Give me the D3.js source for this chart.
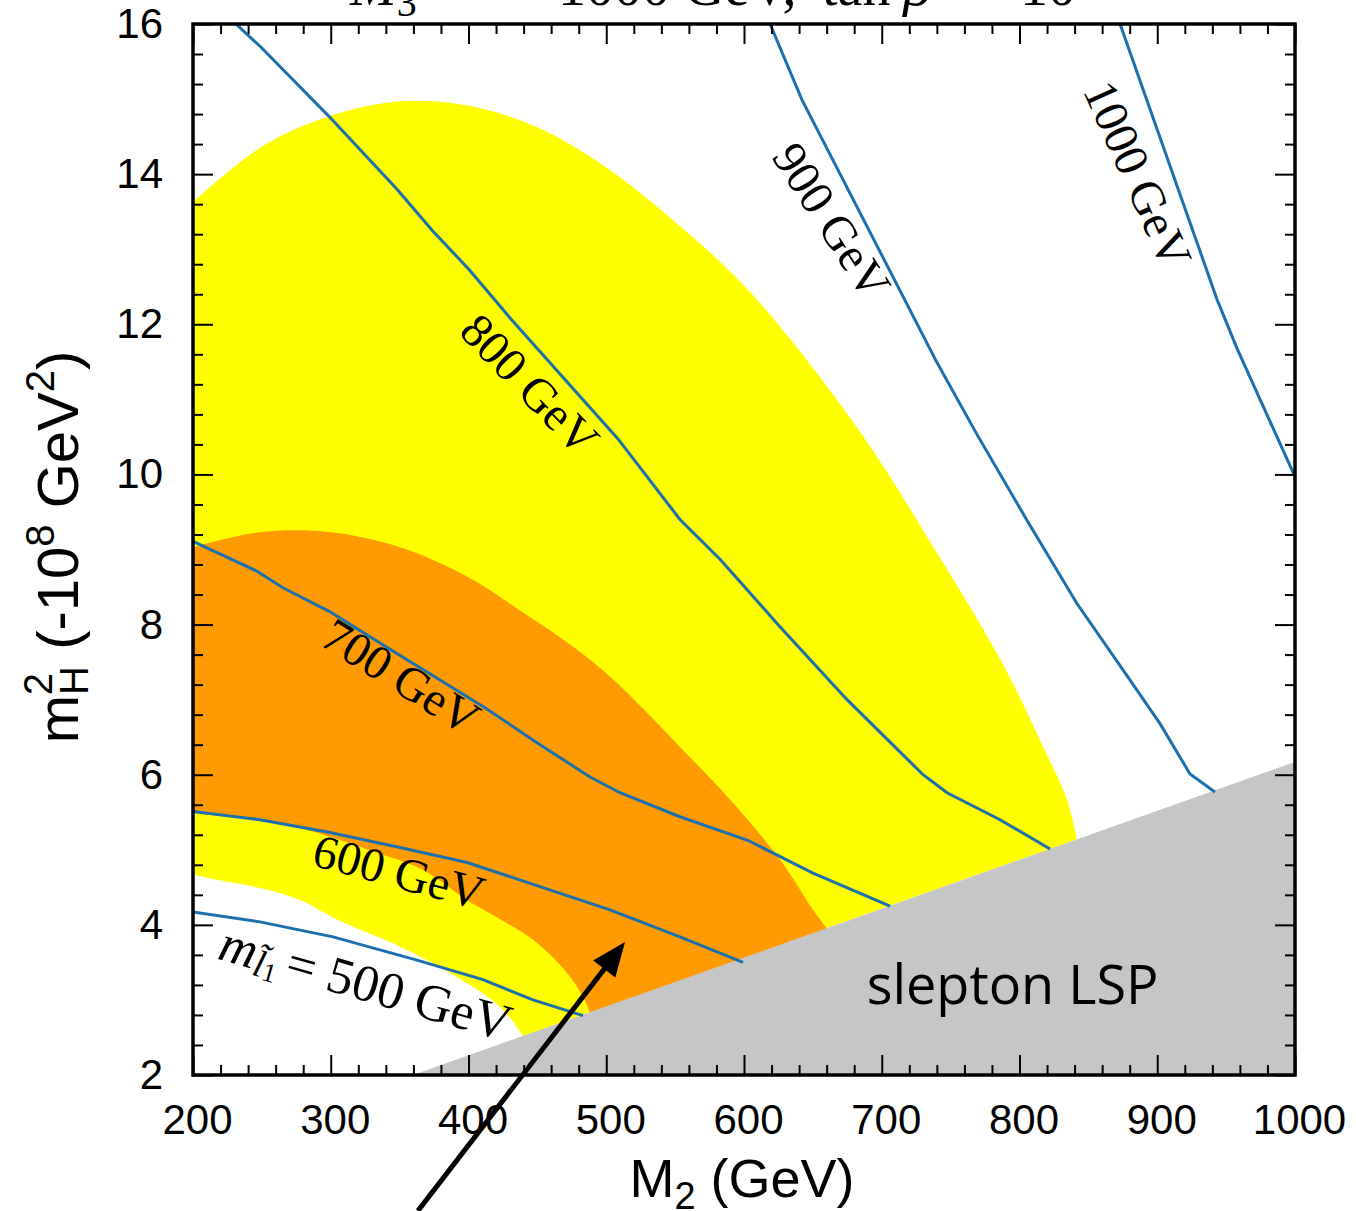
<!DOCTYPE html>
<html>
<head>
<meta charset="utf-8">
<script src="https://cdn.jsdelivr.net/npm/d3@7"></script>
<style>
  body { margin: 0; background: #fff; }
  #chart { width: 1356px; height: 1211px; overflow: hidden; }
</style>
</head>
<body>
<div id="chart"></div>
<script>
// axis ranges and ticks
const m2Domain = [200, 1000];
const mhDomain = [2, 16];
const m2Major = [200, 300, 400, 500, 600, 700, 800, 900, 1000];
const mhMajor = [2, 4, 6, 8, 10, 12, 14, 16];

// shaded regions, [M2 (GeV), mH^2 (-1e8 GeV^2)]
const yellowTop = [[200, 13.63], [249.4, 14.36], [298.7, 14.77], [351, 14.97], [400.4, 14.91],
  [449, 14.63], [498.4, 14.11], [547.7, 13.4], [604.4, 12.43], [684.2, 10.57], [738.6, 9.0],
  [788, 7.47], [818.5, 6.32], [834.5, 5.67], [841.7, 5.14]];
const yellowBottom = [[200, 4.67], [217.4, 4.6], [248.6, 4.49], [277.7, 4.33], [304.5, 4.07],
  [350.3, 3.71], [386.6, 3.36], [422.9, 2.91], [439.6, 2.52]];
const orangeTop = [[200, 9.03], [248.6, 9.23], [299.5, 9.23], [350.3, 9.03], [398.9, 8.64],
  [439.6, 8.16], [477, 7.69], [504.9, 7.27], [553.5, 6.37], [589.8, 5.67], [626.1, 4.87],
  [650.1, 4.2], [660.3, 3.95]];
const orangeBottom = [[200, 5.49], [248.6, 5.39], [277.7, 5.29], [333.6, 4.96], [367, 4.73],
  [398.9, 4.33], [446.8, 3.8], [471.5, 3.36], [483.1, 3.04], [488.2, 2.83]];
const sleptonLSP = [[359.7, 2], [1000, 6.17], [1000, 2]];

// slepton mass contours
const contour500 = [[200, 4.17], [248.6, 4.04], [301.6, 3.84], [362.6, 3.53], [410.5, 3.27],
  [446.8, 3.0], [483.1, 2.79]];
const contour600 = [[200, 5.51], [248.6, 5.4], [299.5, 5.23], [350.3, 5.03], [398.9, 4.83],
  [451.9, 4.51], [502.7, 4.2], [553.5, 3.84], [599.3, 3.5]];
const contour700 = [[200, 9.11], [246.5, 8.71], [265.3, 8.49], [299.5, 8.17], [343, 7.67],
  [410.5, 6.91], [451.9, 6.4], [488.2, 5.97], [510, 5.76], [553.5, 5.44], [602.2, 5.13],
  [650.1, 4.69], [706, 4.25]];
const contour800 = [[231.2, 16], [249.4, 15.69], [298.7, 14.77], [348.1, 13.8], [374.2, 13.24],
  [400.4, 12.73], [430.8, 12.07], [508.7, 10.47], [553.5, 9.4], [582.6, 8.87], [626.1, 7.97],
  [674.8, 7.0], [730, 6.0], [747.4, 5.76], [785.9, 5.4], [822.2, 5.01]];
const contour900 = [[618.9, 16], [642.1, 14.99], [740.1, 11.49], [769.2, 10.53], [805.4, 9.39],
  [841.7, 8.28], [878, 7.32], [902, 6.68], [923.8, 6.01], [941.9, 5.77]];
const contour1000 = [[873, 16], [943.4, 12.33], [957.9, 11.68], [998.5, 10.03], [1000, 9.97]];
const contours = [contour500, contour600, contour700, contour800, contour900, contour1000];

// contour labels: text, position, angle
const contourLabels = [
  { text: "800 GeV", m2: 444.6, mh: 11.2, angle: 46 },
  { text: "900 GeV", m2: 663.9, mh: 13.38, angle: 57 },
  { text: "1000 GeV", m2: 886, mh: 14.0, angle: 66 },
  { text: "700 GeV", m2: 351, mh: 7.31, angle: 32 },
  { text: "600 GeV", m2: 349.5, mh: 4.71, angle: 15 }
];
const label500 = { m2: 325.5, mh: 3.23, angle: 16 };
const sleptonLabel = { m2: 795, mh: 2.95 };
const arrowTail = [363.3, 0.19];
const arrowTip = [513.6, 3.77];

const fullWidth = 1356, fullHeight = 1211;
const margin = { top: 24, right: 61, bottom: 136, left: 193 };
const width = fullWidth - margin.left - margin.right;
const height = fullHeight - margin.top - margin.bottom;

const svg = d3.select("#chart").append("svg")
  .attr("width", fullWidth)
  .attr("height", fullHeight);

const g = svg.append("g")
  .attr("transform", `translate(${margin.left},${margin.top})`);

const x = d3.scaleLinear().domain(m2Domain).range([0, width]);
const y = d3.scaleLinear().domain(mhDomain).range([height, 0]);

svg.append("defs").append("clipPath").attr("id", "plot-clip")
  .append("rect").attr("width", width).attr("height", height);

const plot = g.append("g").attr("clip-path", "url(#plot-clip)");

const line = d3.line().x(d => x(d[0])).y(d => y(d[1]));
const smooth = d3.line().x(d => x(d[0])).y(d => y(d[1])).curve(d3.curveCatmullRom.alpha(0.5));

// smooth upper edge, straight run along the LSP boundary, smooth lower edge back
function region(upper, lower) {
  const a = smooth(upper);
  const b = smooth(lower.slice().reverse());
  return a + "L" + b.slice(1) + "Z";
}

plot.append("path")
  .attr("d", region(yellowTop, yellowBottom))
  .attr("fill", "#ffff00");

plot.append("path")
  .attr("d", region(orangeTop, orangeBottom))
  .attr("fill", "#ff9a00");

plot.append("path")
  .attr("d", line(sleptonLSP) + "Z")
  .attr("fill", "#c6c6c6");

plot.selectAll(".contour")
  .data(contours)
  .enter()
  .append("path")
  .attr("class", "contour")
  .attr("d", line)
  .attr("fill", "none")
  .attr("stroke", "#1b70ad")
  .attr("stroke-width", 3);

// contour labels
const serif = "'Liberation Serif', 'DejaVu Serif', serif";
g.selectAll(".clabel")
  .data(contourLabels)
  .enter()
  .append("text")
  .attr("class", "clabel")
  .attr("transform", d => `translate(${x(d.m2)},${y(d.mh)}) rotate(${d.angle})`)
  .attr("text-anchor", "middle")
  .attr("dominant-baseline", "central")
  .attr("font-family", serif)
  .attr("font-size", 48)
  .text(d => d.text);

const l500 = g.append("text")
  .attr("transform", `translate(${x(label500.m2)},${y(label500.mh)}) rotate(${label500.angle})`)
  .attr("text-anchor", "middle")
  .attr("dominant-baseline", "central")
  .attr("font-family", serif)
  .attr("font-size", 52);
l500.append("tspan").attr("font-style", "italic").text("m");
l500.append("tspan").attr("font-style", "italic").attr("font-size", 38).attr("dy", 11).text("l\u0303");
l500.append("tspan").attr("font-size", 27).attr("dy", 6).text("1");
l500.append("tspan").attr("dx", 8).attr("dy", -17).text("= 500 GeV");

// slepton LSP
g.append("text")
  .attr("x", x(sleptonLabel.m2))
  .attr("y", y(sleptonLabel.mh))
  .attr("text-anchor", "middle")
  .attr("font-family", "'Open Sans', sans-serif")
  .attr("font-size", 54)
  .text("slepton LSP");

// frame
g.append("rect")
  .attr("width", width)
  .attr("height", height)
  .attr("fill", "none")
  .attr("stroke", "#000")
  .attr("stroke-width", 3.5);

// ticks
const m2Minor = d3.range(0, 41).map(i => 200 + i * 20).filter((d, i) => i % 5 !== 0);
const mhMinor = d3.range(0, 36).map(i => 2 + i * 0.4).filter((d, i) => i % 5 !== 0);
const sans = "'Liberation Sans', Arial, sans-serif";

function styleAxis(sel) {
  sel.select(".domain").remove();
  sel.selectAll("line").attr("stroke", "#000").attr("stroke-width", 2);
  sel.selectAll("text").attr("font-family", sans).attr("font-size", 42).attr("fill", "#000");
}

g.append("g").attr("transform", `translate(0,${height})`)
  .call(d3.axisBottom(x).tickValues(m2Major).tickSize(-20).tickPadding(29).tickFormat(d3.format("d")))
  .call(styleAxis)
  .selectAll("text").attr("dx", 4);
g.append("g").attr("transform", `translate(0,${height})`)
  .call(d3.axisBottom(x).tickValues(m2Minor).tickSize(-10).tickFormat(""))
  .call(styleAxis);
g.append("g")
  .call(d3.axisTop(x).tickValues(m2Major).tickSize(-20).tickFormat(""))
  .call(styleAxis);
g.append("g")
  .call(d3.axisTop(x).tickValues(m2Minor).tickSize(-10).tickFormat(""))
  .call(styleAxis);

g.append("g")
  .call(d3.axisLeft(y).tickValues(mhMajor).tickSize(-20).tickPadding(30).tickFormat(d3.format("d")))
  .call(styleAxis);
g.append("g")
  .call(d3.axisLeft(y).tickValues(mhMinor).tickSize(-10).tickFormat(""))
  .call(styleAxis);
g.append("g").attr("transform", `translate(${width},0)`)
  .call(d3.axisRight(y).tickValues(mhMajor).tickSize(-20).tickFormat(""))
  .call(styleAxis);
g.append("g").attr("transform", `translate(${width},0)`)
  .call(d3.axisRight(y).tickValues(mhMinor).tickSize(-10).tickFormat(""))
  .call(styleAxis);

// axis titles
const xTitle = svg.append("text")
  .attr("x", margin.left + width / 2 - 2)
  .attr("y", 1197)
  .attr("text-anchor", "middle")
  .attr("font-family", sans)
  .attr("font-size", 54);
xTitle.append("tspan").text("M");
xTitle.append("tspan").attr("font-size", 38).attr("dy", 12).text("2");
xTitle.append("tspan").attr("dy", -12).text(" (GeV)");

const yTitle = svg.append("text")
  .attr("transform", "translate(78,547) rotate(-90)")
  .attr("text-anchor", "middle")
  .attr("font-family", sans)
  .attr("font-size", 58);
yTitle.append("tspan").text("m");
yTitle.append("tspan").attr("font-size", 40).attr("dy", 10).text("H");
yTitle.append("tspan").attr("font-size", 40).attr("dx", -29).attr("dy", -36).text("2");
yTitle.append("tspan").attr("dx", 7).attr("dy", 26).text(" (-10");
yTitle.append("tspan").attr("font-size", 40).attr("dy", -24).text("8");
yTitle.append("tspan").attr("dy", 24).text(" GeV");
yTitle.append("tspan").attr("font-size", 40).attr("dy", -24).text("2");
yTitle.append("tspan").attr("dy", 24).text(")");

// title, mostly cut off at the top edge as in the source figure
const title = svg.append("text")
  .attr("y", 5)
  .attr("font-family", serif)
  .attr("font-size", 56);
title.append("tspan").attr("x", 350).attr("font-style", "italic").text("M");
title.append("tspan").attr("font-size", 40).attr("dy", 11).text("3");
title.append("tspan").attr("x", 470).attr("dy", -11).text("=");
title.append("tspan").attr("x", 558).text("1000 GeV,");
title.append("tspan").attr("x", 822).text("tan");
title.append("tspan").attr("x", 903).attr("font-style", "italic").text("β");
title.append("tspan").attr("x", 958).text("=");
title.append("tspan").attr("x", 1020).text("10");

// arrow
const tail = [margin.left + x(arrowTail[0]), margin.top + y(arrowTail[1])];
const tip = [margin.left + x(arrowTip[0]), margin.top + y(arrowTip[1])];
const ang = Math.atan2(tip[1] - tail[1], tip[0] - tail[0]);
const headLen = 34, headHalf = 14;
const base = [tip[0] - headLen * Math.cos(ang), tip[1] - headLen * Math.sin(ang)];
svg.append("line")
  .attr("x1", tail[0]).attr("y1", tail[1])
  .attr("x2", base[0] + 4 * Math.cos(ang)).attr("y2", base[1] + 4 * Math.sin(ang))
  .attr("stroke", "#000")
  .attr("stroke-width", 5);
svg.append("polygon")
  .attr("points", [
    tip,
    [base[0] + headHalf * Math.sin(ang), base[1] - headHalf * Math.cos(ang)],
    [base[0] - headHalf * Math.sin(ang), base[1] + headHalf * Math.cos(ang)]
  ].map(p => p.join(",")).join(" "))
  .attr("fill", "#000");
</script>
</body>
</html>
